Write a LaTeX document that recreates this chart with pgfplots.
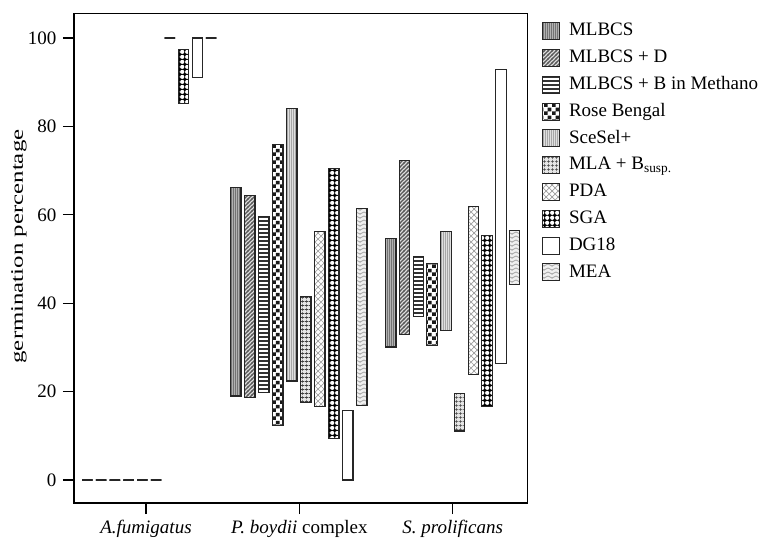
\documentclass[border=0pt]{standalone}
\usepackage{fontspec}
\setmainfont{Liberation Serif}
\usepackage{pgfplots}
\pgfplotsset{compat=1.18}
\usepackage{pgfplotstable}
\usetikzlibrary{patterns}

% ---------- patterns ----------
\pgfdeclarepatternformonly{myvert}{\pgfqpoint{0pt}{-0.5pt}}{\pgfqpoint{2pt}{2.5pt}}{\pgfqpoint{2pt}{2pt}}%
 {\pgfsetlinewidth{0.8pt}\pgfpathmoveto{\pgfqpoint{1pt}{-0.5pt}}\pgfpathlineto{\pgfqpoint{1pt}{2.5pt}}\pgfusepath{stroke}}
\pgfdeclarepatternformonly{myvertfine}{\pgfqpoint{0pt}{-0.5pt}}{\pgfqpoint{2pt}{2.5pt}}{\pgfqpoint{2pt}{2pt}}%
 {\pgfsetlinewidth{0.5pt}\pgfpathmoveto{\pgfqpoint{1pt}{-0.5pt}}\pgfpathlineto{\pgfqpoint{1pt}{2.5pt}}\pgfusepath{stroke}}
\pgfdeclarepatternformonly{mydiag}{\pgfqpoint{-1pt}{-1pt}}{\pgfqpoint{5pt}{5pt}}{\pgfqpoint{4pt}{4pt}}%
 {\pgfsetlinewidth{1.2pt}\pgfpathmoveto{\pgfqpoint{-1pt}{-1pt}}\pgfpathlineto{\pgfqpoint{5pt}{5pt}}\pgfusepath{stroke}}
\pgfdeclarepatternformonly{myhoriz}{\pgfqpoint{-0.5pt}{0pt}}{\pgfqpoint{4.5pt}{4pt}}{\pgfqpoint{4pt}{4pt}}%
 {\pgfsetlinewidth{1.6pt}\pgfpathmoveto{\pgfqpoint{-0.5pt}{2pt}}\pgfpathlineto{\pgfqpoint{4.5pt}{2pt}}\pgfusepath{stroke}}
\pgfdeclarepatternformonly{mychecker}{\pgfqpoint{0pt}{0pt}}{\pgfqpoint{8pt}{8pt}}{\pgfqpoint{8pt}{8pt}}%
 {\pgfpathrectangle{\pgfqpoint{0pt}{0pt}}{\pgfqpoint{4pt}{4pt}}\pgfpathrectangle{\pgfqpoint{4pt}{4pt}}{\pgfqpoint{4pt}{4pt}}\pgfusepath{fill}}
\pgfdeclarepatternformonly{mygrid}{\pgfqpoint{0pt}{0pt}}{\pgfqpoint{3.5pt}{3.5pt}}{\pgfqpoint{3.5pt}{3.5pt}}%
 {\pgfsetlinewidth{0.7pt}\pgfpathmoveto{\pgfqpoint{0pt}{1.75pt}}\pgfpathlineto{\pgfqpoint{3.5pt}{1.75pt}}%
  \pgfpathmoveto{\pgfqpoint{1.75pt}{0pt}}\pgfpathlineto{\pgfqpoint{1.75pt}{3.5pt}}\pgfusepath{stroke}}
\pgfdeclarepatternformonly{mycross}{\pgfqpoint{-0.5pt}{-0.5pt}}{\pgfqpoint{6.5pt}{6.5pt}}{\pgfqpoint{6pt}{6pt}}%
 {\pgfsetlinewidth{0.7pt}\pgfpathmoveto{\pgfqpoint{-0.5pt}{-0.5pt}}\pgfpathlineto{\pgfqpoint{6.5pt}{6.5pt}}%
  \pgfpathmoveto{\pgfqpoint{-0.5pt}{6.5pt}}\pgfpathlineto{\pgfqpoint{6.5pt}{-0.5pt}}\pgfusepath{stroke}}
\pgfdeclarepatternformonly{mydots}{\pgfqpoint{0pt}{0pt}}{\pgfqpoint{5pt}{5pt}}{\pgfqpoint{5pt}{5pt}}%
 {\pgfpathcircle{\pgfqpoint{2.5pt}{2.5pt}}{2.4pt}\pgfusepath{fill}}
\pgfdeclarepatternformonly{mywave}{\pgfqpoint{-0.5pt}{0pt}}{\pgfqpoint{8.5pt}{4pt}}{\pgfqpoint{8pt}{4pt}}%
 {\pgfsetlinewidth{0.8pt}\pgfpathmoveto{\pgfqpoint{-0.5pt}{0.75pt}}\pgfpathlineto{\pgfqpoint{4pt}{3pt}}\pgfpathlineto{\pgfqpoint{8.5pt}{0.75pt}}\pgfusepath{stroke}}

\tikzset{
 s0/.style={draw=black!85, line width=1.1pt, preaction={fill=gray!60}, pattern=myvert, pattern color=black!55},
 s1/.style={draw=black!85, line width=1.1pt, preaction={fill=gray!25}, pattern=mydiag, pattern color=black!65},
 s2/.style={draw=black!85, line width=1.1pt, preaction={fill=white}, pattern=myhoriz, pattern color=black!80},
 s3/.style={draw=black!85, line width=1.1pt, preaction={fill=white}, pattern=mychecker, pattern color=black!90},
 s4/.style={draw=black!85, line width=1.1pt, preaction={fill=gray!25}, pattern=myvertfine, pattern color=gray!70},
 s5/.style={draw=black!85, line width=1.1pt, preaction={fill=gray!20}, pattern=mygrid, pattern color=black!75},
 s6/.style={draw=black!85, line width=1.1pt, preaction={fill=white}, pattern=mycross, pattern color=gray!75},
 s7/.style={draw=black!85, line width=1.1pt, preaction={fill=black}, pattern=mydots, pattern color=white},
 s8/.style={draw=black!85, line width=1.1pt, fill=white},
 s9/.style={draw=black!85, line width=1.1pt, preaction={fill=gray!12}, pattern=mywave, pattern color=gray!70},
}

% ---------- data: rows = MLBCS, MLBCS+D, MLBCS+B in Methano, Rose Bengal, SceSel+, MLA+B, PDA, SGA, DG18, MEA ----------
\pgfplotstableread{
lo hi
0 0
0 0
0 0
0 0
0 0
0 0
100 100
85.1 97.5
91.1 100
100 100
}\tabA
\pgfplotstableread{
lo hi
19.0 66.2
18.6 64.3
19.8 59.6
12.4 75.9
22.4 84.1
17.6 41.5
16.7 56.2
9.4 70.5
0 15.8
16.8 61.5
}\tabB
\pgfplotstableread{
lo hi
30.1 54.6
33.0 72.2
37.0 50.5
30.4 49.0
33.9 56.2
11.1 19.6
23.9 61.8
16.7 55.3
26.4 92.9
44.3 56.5
}\tabC

% one floating bar: #1 table, #2 row, #3 x position (bar width 0.068 axis units)
\newcommand\rangebar[3]{%
  \pgfplotstablegetelem{#2}{lo}\of#1\let\barlo\pgfplotsretval
  \pgfplotstablegetelem{#2}{hi}\of#1\let\barhi\pgfplotsretval
  \pgfmathsetmacro\xl{#3-0.034}\pgfmathsetmacro\xr{#3+0.034}%
  \edef\tmpplot{\noexpand\addplot[s#2, forget plot] coordinates
     {(\xl,\barlo) (\xl,\barhi) (\xr,\barhi) (\xr,\barlo)} -- cycle;}%
  \tmpplot
}

\begin{document}
\begin{tikzpicture}
\begin{axis}[
  at={(0,0)}, anchor=south west,
  scale only axis, width=453.7pt, height=489.7pt,
  xmin=-0.4695, xmax=2.489, ymin=-5.2, ymax=105.6,
  xtick={0,1,2},
  xticklabels={\textit{A.fumigatus},\textit{P. boydii} complex,\textit{S. prolificans}},
  ytick={0,20,40,60,80,100},
  tick pos=left, tick align=outside,
  major tick length=11pt,
  axis line style={line width=1.2pt},
  every tick/.style={line width=1.2pt, black},
  tick label style={font=\fontsize{19}{22}\selectfont},
  xticklabel style={yshift=-2.5pt},
  yticklabel style={xshift=-3pt},
  /pgf/number format/assume math mode=true,
  ylabel={\scalebox{1.42}[1]{germination percentage}},
  ylabel style={font=\fontsize{17.5}{20}\selectfont, at={(axis description cs:-0.1212,0.5238)}, anchor=center},
  legend image code/.code={\draw[#1] (0pt,-8.5pt) rectangle (17pt,8.5pt);},
  legend style={at={(axis description cs:1,1)}, anchor=north west, xshift=11pt, yshift=-6.5pt,
     draw=none, fill=none, font=\fontsize{19}{22}\selectfont, row sep=8.4pt, column sep=9pt,
     nodes={text height=13.8pt, text depth=4.6pt, inner sep=0pt}},
  legend cell align=left,
]
\pgfplotsforeachungrouped \i in {0,...,9}{%
  \pgfmathsetmacro\xa{0.0215+(\i-4.5)*0.0897}%
  \pgfmathsetmacro\xb{0.996+(\i-4.5)*0.0913}%
  \pgfmathsetmacro\xc{2+(\i-4.5)*0.0897}%
  \rangebar{\tabA}{\i}{\xa}%
  \rangebar{\tabB}{\i}{\xb}%
  \rangebar{\tabC}{\i}{\xc}%
}
\addlegendimage{s0}\addlegendentry{MLBCS}
\addlegendimage{s1}\addlegendentry{MLBCS + D}
\addlegendimage{s2}\addlegendentry{MLBCS + B in Methano}
\addlegendimage{s3}\addlegendentry{Rose Bengal}
\addlegendimage{s4}\addlegendentry{SceSel+}
\addlegendimage{s5}\addlegendentry{MLA + B\textsubscript{susp.}}
\addlegendimage{s6}\addlegendentry{PDA}
\addlegendimage{s7}\addlegendentry{SGA}
\addlegendimage{s8}\addlegendentry{DG18}
\addlegendimage{s9}\addlegendentry{MEA}
\end{axis}
\pgfresetboundingbox
\useasboundingbox (-74pt,-36pt) rectangle (688pt,503pt);
\end{tikzpicture}
\end{document}
